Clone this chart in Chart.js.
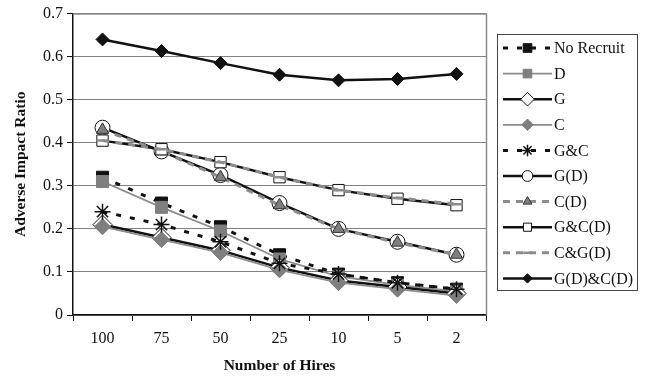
<!DOCTYPE html>
<html>
<head>
<meta charset="utf-8">
<script src="https://cdn.jsdelivr.net/npm/chart.js@4/dist/chart.umd.min.js"></script>
<style>
  html, body { margin: 0; padding: 0; background: #fff; }
  #wrap { width: 646px; height: 381px; position: relative; }
</style>
</head>
<body>
<div id="wrap"><canvas id="c" width="646" height="381"></canvas></div>
<script>
// Number of hires (categories along the x axis)
const hires = ['100', '75', '50', '25', '10', '5', '2'];
const yTicks = [0, 0.1, 0.2, 0.3, 0.4, 0.5, 0.6, 0.7];

// Adverse impact ratio for each recruiting strategy
const noRecruit = [0.32, 0.26, 0.205, 0.14, 0.095, 0.075, 0.06];
const dOnly     = [0.31, 0.25, 0.195, 0.13, 0.09, 0.07, 0.055];
const gOnly     = [0.21, 0.18, 0.15, 0.11, 0.08, 0.065, 0.05];
const cOnly     = [0.205, 0.175, 0.145, 0.105, 0.075, 0.06, 0.045];
const gAndC     = [0.24, 0.21, 0.17, 0.12, 0.095, 0.075, 0.06];
const gD        = [0.435, 0.38, 0.325, 0.26, 0.2, 0.17, 0.14];
const cD        = [0.43, 0.38, 0.32, 0.255, 0.2, 0.168, 0.14];
const gAndCD    = [0.405, 0.385, 0.355, 0.32, 0.29, 0.27, 0.255];
const cAndGD    = [0.405, 0.385, 0.355, 0.32, 0.29, 0.272, 0.257];
const gDandCD   = [0.64, 0.613, 0.585, 0.558, 0.545, 0.548, 0.56];

const BLACK = '#111';
const GRAY = '#8c8c8c';
const MID = '#7f7f7f';
const SERIF = '"Liberation Serif", "Times New Roman", serif';

function series(label, data, s) {
  return Object.assign({
    label, data,
    borderColor: BLACK,
    borderWidth: 2.5,
    borderDash: [],
    pointStyle: 'rect',
    pointRadius: 8,
    pointBackgroundColor: BLACK,
    pointBorderColor: BLACK,
    pointBorderWidth: 1,
    tension: 0,
    fill: false
  }, s);
}

const datasets = [
  series('No Recruit', noRecruit, { borderDash: [5, 9], borderWidth: 3, pointStyle: 'rect', pointRadius: 8.5 }),
  series('D', dOnly, { borderColor: GRAY, borderWidth: 1.8, pointStyle: 'rect', pointRadius: 8.5,
    pointBackgroundColor: MID, pointBorderColor: MID }),
  series('G', gOnly, { pointStyle: 'rectRot', pointRadius: 9.5, pointBackgroundColor: '#fff', pointBorderColor: BLACK }),
  series('C', cOnly, { borderColor: GRAY, borderWidth: 1.8, pointStyle: 'rectRot', pointRadius: 8,
    pointBackgroundColor: MID, pointBorderColor: MID }),
  series('G&C', gAndC, { borderDash: [5, 9], borderWidth: 3, pointStyle: 'star', pointRadius: 8, pointBorderWidth: 1.5 }),
  series('G(D)', gD, { pointStyle: 'circle', pointRadius: 7.5, pointBackgroundColor: '#fff' }),
  series('C(D)', cD, { borderColor: GRAY, borderDash: [7, 6], borderWidth: 3, pointStyle: 'triangle', pointRadius: 7,
    pointBackgroundColor: MID, pointBorderColor: '#333' }),
  series('G&C(D)', gAndCD, { pointStyle: 'rect', pointRadius: 8, pointBackgroundColor: '#fff' }),
  series('C&G(D)', cAndGD, { borderColor: GRAY, borderDash: [7, 6], borderWidth: 3, pointStyle: 'line', pointRadius: 6,
    pointBackgroundColor: GRAY, pointBorderColor: GRAY, pointBorderWidth: 2.5 }),
  series('G(D)&C(D)', gDandCD, { pointStyle: 'rectRot', pointRadius: 6.5 })
];
// later series are drawn over earlier ones
datasets.forEach((d, i) => { d.order = datasets.length - i; });

// Plot frame: grey top and right edges
const framePlugin = {
  id: 'frame',
  beforeDatasetsDraw(chart) {
    const { ctx, chartArea: a } = chart;
    ctx.save();
    ctx.strokeStyle = '#8a8a8a';
    ctx.lineWidth = 1.5;
    ctx.beginPath();
    ctx.moveTo(a.left, a.top + 0.5);
    ctx.lineTo(a.right + 0.5, a.top + 0.5);
    ctx.lineTo(a.right + 0.5, a.bottom);
    ctx.stroke();
    ctx.restore();
  }
};

// Boxed legend with line samples and markers
const legendPlugin = {
  id: 'boxLegend',
  afterDraw(chart) {
    const { ctx } = chart;
    const bx = 497, by = 34, bw = 140, bh = 256;
    ctx.save();
    ctx.fillStyle = '#fff';
    ctx.fillRect(bx, by, bw, bh);
    ctx.strokeStyle = '#444';
    ctx.lineWidth = 1;
    ctx.strokeRect(bx + 0.5, by + 0.5, bw, bh);
    const x0 = 503, x1 = 552, y0 = 48, step = 25.6;
    chart.data.datasets.forEach((d, i) => {
      const y = y0 + i * step;
      ctx.save();
      ctx.strokeStyle = d.borderColor;
      ctx.lineWidth = d.borderWidth;
      ctx.setLineDash(d.borderDash || []);
      ctx.beginPath();
      ctx.moveTo(x0, y);
      ctx.lineTo(x1, y);
      ctx.stroke();
      ctx.restore();
      ctx.save();
      ctx.fillStyle = d.pointBackgroundColor;
      ctx.strokeStyle = d.pointBorderColor;
      ctx.lineWidth = d.pointBorderWidth;
      ctx.setLineDash([]);
      Chart.helpers.drawPoint(ctx, {
        pointStyle: d.pointStyle,
        radius: d.pointRadius * 0.72,
        rotation: 0,
        borderWidth: d.pointBorderWidth
      }, (x0 + x1) / 2, y);
      ctx.restore();
      ctx.fillStyle = '#111';
      ctx.font = '16px ' + SERIF;
      ctx.textAlign = 'left';
      ctx.textBaseline = 'middle';
      ctx.fillText(d.label, x1 + 2, y + 1);
    });
    ctx.restore();
  }
};

new Chart(document.getElementById('c'), {
  type: 'line',
  data: { labels: hires, datasets },
  options: {
    responsive: false,
    animation: false,
    devicePixelRatio: 1,
    layout: { padding: { top: 12, right: 160, left: 0, bottom: 0 } },
    plugins: { legend: { display: false }, tooltip: { enabled: false } },
    scales: {
      x: {
        type: 'category',
        offset: true,
        grid: { offset: true, drawOnChartArea: false, tickLength: 6, color: '#111', tickColor: '#111' },
        border: { color: '#111', width: 1.5 },
        ticks: { color: '#111', padding: 8, font: { family: SERIF, size: 16 } },
        title: {
          display: true, text: 'Number of Hires', color: '#111',
          font: { family: SERIF, size: 15.5, weight: 'bold' }, padding: { top: 4, bottom: 6 }
        },
        afterFit(s) { s.height = 66; }
      },
      y: {
        min: 0, max: 0.7,
        afterBuildTicks(s) { s.ticks = yTicks.map(v => ({ value: v })); },
        grid: { color: '#808080', lineWidth: 1, tickLength: 6, tickColor: '#111' },
        border: { color: '#111', width: 1.5 },
        ticks: {
          color: '#111', padding: 4, font: { family: SERIF, size: 16 },
          callback: v => String(Math.round(v * 10) / 10)
        },
        title: {
          display: true, text: 'Adverse Impact Ratio', color: '#111',
          font: { family: SERIF, size: 15.5, weight: 'bold' }, padding: { top: 12, bottom: 0 }
        },
        afterFit(s) { s.width = 73; }
      }
    }
  },
  plugins: [framePlugin, legendPlugin]
});
</script>
</body>
</html>
